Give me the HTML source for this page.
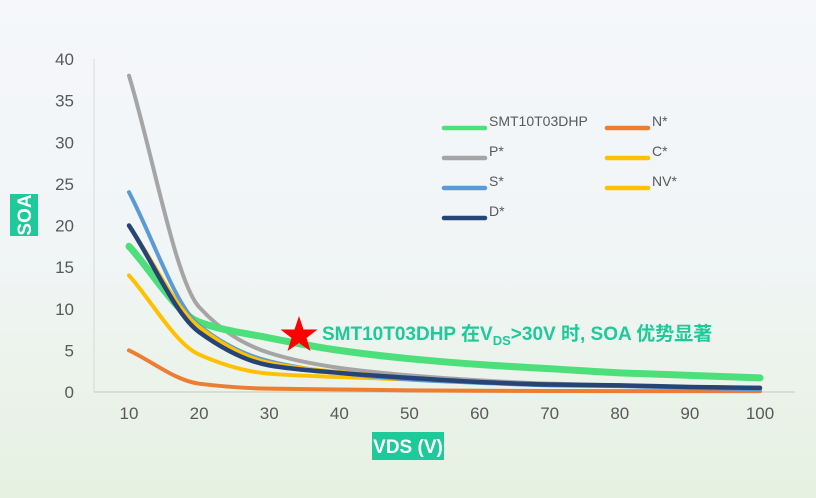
<!DOCTYPE html>
<html><head><meta charset="utf-8"><style>
html,body{margin:0;padding:0}
body{width:816px;height:498px;overflow:hidden;background:linear-gradient(#f5f7fb 0%,#f1f5f6 50%,#e6f1e1 100%);font-family:"Liberation Sans","Noto Sans CJK SC",sans-serif}
</style></head><body>
<svg id="chart" width="816" height="498" xmlns="http://www.w3.org/2000/svg" style="position:absolute;left:0;top:0">
<g id="grid"></g><g id="series"></g><g id="legend"></g>
</svg>
<script>
const xCats=[10,20,30,40,50,60,70,80,90,100];
const yTicks=[0,5,10,15,20,25,30,35,40];
const seriesNames=["SMT10T03DHP","N*","P*","C*","S*","NV*","D*"];
const smt=[17.5,8.4,6.5,5.0,4.0,3.3,2.8,2.3,2.0,1.7];
const nSer=[5,1.0,0.4,0.3,0.2,0.15,0.12,0.1,0.1,0.1];
const pSer=[38,10.2,4.7,2.9,2.0,1.4,1.0,0.8,0.6,0.5];
const cSer=[20,7.8,3.5,2.4,1.7,1.2,0.9,0.8,0.6,0.5];
const sSer=[24,8.0,3.7,2.3,1.5,1.1,0.8,0.7,0.5,0.3];
const nvSer=[14,4.5,2.2,1.8,1.5,1.2,0.9,0.8,0.6,0.5];
const dSer=[20,7.2,3.2,2.3,1.7,1.2,0.9,0.8,0.6,0.5];
const NS="http://www.w3.org/2000/svg";
const X=v=>129+(v-10)*(631/90);
const Y=v=>392-v*(333/40);
function mk(t,a,p){const e=document.createElementNS(NS,t);for(const k in a)e.setAttribute(k,a[k]);p.appendChild(e);return e;}
const grid=document.getElementById('grid'),ser=document.getElementById('series'),leg=document.getElementById('legend'),svg=document.getElementById('chart');
const xa=mk('line',{x1:94,x2:795,y1:392,y2:392,stroke:'#d4d4d4','stroke-width':1.5},grid);


const ya=mk('line',{x1:94,x2:94,y1:59,y2:392,stroke:'#d9d9d9','stroke-width':1},grid);


yTicks.forEach(t=>{const e=mk('text',{x:74,y:Y(t)+6,'text-anchor':'end','font-size':17,fill:'#595959'},grid);e.textContent=t;

});
xCats.forEach(t=>{const e=mk('text',{x:X(t),y:419,'text-anchor':'middle','font-size':17,fill:'#595959'},grid);e.textContent=t;

});
function pathFor(vals){const pts=xCats.map((c,i)=>[X(c),Y(vals[i])]);const n=pts.length;
const d=[],m=[];for(let i=0;i<n-1;i++)d.push((pts[i+1][1]-pts[i][1])/(pts[i+1][0]-pts[i][0]));
m[0]=d[0];m[n-1]=d[n-2];for(let i=1;i<n-1;i++){m[i]=d[i-1]*d[i]<=0?0:2/(1/d[i-1]+1/d[i]);}
let s='M'+pts[0][0]+','+pts[0][1];for(let i=0;i<n-1;i++){const h=pts[i+1][0]-pts[i][0];
s+=` C${pts[i][0]+h/3},${pts[i][1]+m[i]*h/3} ${pts[i+1][0]-h/3},${pts[i+1][1]-m[i+1]*h/3} ${pts[i+1][0]},${pts[i+1][1]}`;}return s;}
const defs=[[nSer,'#ed7d31',4,'series-n'],[nvSer,'#ffc000',4,'series-nv'],[pSer,'#a5a5a5',4,'series-p'],[smt,'#4de07a',7,'series-smt10t03dhp'],[sSer,'#5b9bd5',4,'series-s'],[cSer,'#ffc000',4,'series-c'],[dSer,'#264478',4.5,'series-d']];
defs.forEach(([v,c,w,n])=>{const p=mk('path',{d:pathFor(v),fill:'none',stroke:c,'stroke-width':w,'stroke-linecap':'round','stroke-linejoin':'round'},ser);

});
const legItems=[[seriesNames[0],'#4de07a',442,127],[seriesNames[2],'#a5a5a5',442,157],['S*','#5b9bd5',442,187],[seriesNames[6],'#264478',442,217],[seriesNames[1],'#ed7d31',605,127],[seriesNames[3],'#ffc000',605,157],[seriesNames[5],'#ffc000',605,187]];
legItems.forEach(([t,c,x,y])=>{const g=mk('g',{},leg);

mk('line',{x1:x+2,x2:x+43,y1:y+1,y2:y+1,stroke:c,'stroke-width':4.5,'stroke-linecap':'round'},g);
const e=mk('text',{x:x+47,y:y-1,'font-size':14,fill:'#595959'},g);e.textContent=t;});
const star=mk('polygon',{points:'299,316 303.5,329.5 317.5,329.5 306.5,338 310.5,351 299,343 287.5,351 291.5,338 280.5,329.5 294.5,329.5',fill:'#ff0000'},svg);


const ann=mk('text',{x:322,y:340,'font-size':19,'font-weight':'bold',fill:'#1ec99a'},svg);


ann.innerHTML='SMT10T03DHP 在V<tspan font-size="13" dy="5">DS</tspan><tspan dy="-5">&gt;30V 时, SOA 优势显著</tspan>';
const yb=mk('rect',{x:10,y:194,width:28,height:42,fill:'#1ec99a'},svg);


const yt=mk('text',{x:0,y:0,'font-size':19,'font-weight':'bold',fill:'#fff','text-anchor':'middle',transform:'translate(31,215) rotate(-90)'},svg);yt.textContent='SOA';


const xb=mk('rect',{x:372,y:432,width:72,height:28,fill:'#1ec99a'},svg);


const xt=mk('text',{x:408,y:453,'font-size':19,'font-weight':'bold',fill:'#fff','text-anchor':'middle'},svg);xt.textContent='VDS (V)';


</script>
</body></html>
